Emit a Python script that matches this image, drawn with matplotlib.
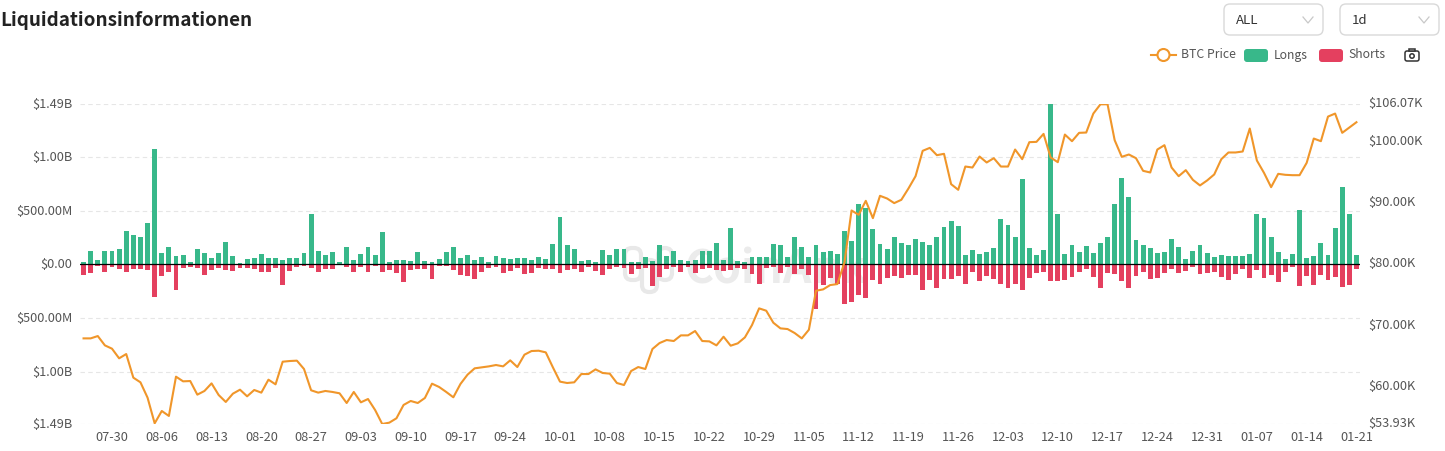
import matplotlib
matplotlib.use("Agg")
import matplotlib.pyplot as plt
from matplotlib.patches import FancyBboxPatch, Circle, Rectangle
from matplotlib.transforms import ScaledTranslation
import numpy as np

plt.rcParams['font.family'] = ['Noto Sans CJK SC', 'DejaVu Sans']

# liquidations in $M, one value per day from 07-26 to 01-21
longs = [25, 121, 43, 127, 124, 140, 307, 276, 251, 382, 1074, 102, 158, 74, 84, 19, 143, 109, 56, 106,
         211, 81, 16, 53, 59, 93, 62, 56, 40, 56, 62, 106, 469, 124, 84, 118, 19, 158, 37, 96,
         158, 84, 301, 22, 37, 37, 28, 115, 31, 25, 47, 118, 158, 56, 90, 40, 71, 25, 81, 56,
         47, 56, 59, 37, 68, 47, 192, 441, 177, 140, 34, 43, 19, 137, 84, 140, 146, 22, 22, 68,
         34, 183, 74, 121, 40, 28, 37, 121, 127, 199, 43, 335, 28, 22, 71, 65, 68, 189, 183, 71,
         251, 158, 68, 180, 118, 124, 93, 307, 214, 559, 525, 332, 186, 143, 258, 196, 177, 233, 205, 180,
         251, 345, 407, 354, 84, 130, 96, 118, 149, 419, 369, 251, 792, 155, 84, 130, 1490, 469, 96, 183,
         112, 171, 102, 196, 251, 562, 807, 627, 223, 183, 152, 106, 112, 233, 158, 47, 121, 177, 109, 65,
         90, 74, 74, 81, 96, 469, 435, 258, 115, 47, 96, 503, 59, 81, 196, 84, 335, 720, 472, 84]
shorts = [99, 78, 12, 71, 25, 40, 74, 40, 40, 56, 307, 112, 74, 242, 34, 22, 34, 99, 53, 34,
          50, 62, 31, 34, 40, 74, 74, 34, 189, 59, 28, 12, 31, 74, 40, 40, 6, 25, 71, 22,
          68, 19, 74, 53, 81, 165, 53, 43, 43, 137, 12, 19, 53, 102, 105, 137, 71, 31, 28, 78,
          59, 31, 90, 81, 31, 40, 40, 78, 53, 47, 74, 22, 59, 102, 47, 25, 37, 90, 47, 34,
          199, 115, 47, 28, 71, 22, 78, 47, 37, 56, 65, 56, 37, 43, 90, 183, 34, 28, 81, 28,
          87, 43, 99, 413, 192, 127, 186, 366, 354, 289, 317, 143, 186, 127, 109, 130, 102, 99, 242, 143,
          223, 133, 133, 109, 180, 74, 155, 112, 133, 186, 220, 186, 242, 130, 84, 74, 152, 152, 149, 118,
          74, 47, 118, 220, 84, 93, 152, 220, 112, 74, 137, 130, 84, 47, 78, 59, 28, 90, 81, 68,
          118, 146, 93, 43, 124, 56, 127, 102, 165, 71, 25, 199, 105, 189, 99, 146, 121, 208, 192, 40]
# BTC price in $K
price = [67.93, 67.93, 68.31, 66.79, 66.25, 64.68, 65.38, 61.53, 60.77, 58.27, 54.09, 56.10, 55.29, 61.69, 60.93,
         60.98, 58.76, 59.36, 60.60, 58.70, 57.57, 58.92, 59.57, 58.49, 59.52, 59.09, 61.20, 60.44, 64.13, 64.24,
         64.30, 62.94, 59.47, 59.09, 59.36, 59.20, 58.98, 57.40, 59.20, 57.51, 58.05, 56.26, 53.98, 54.20, 54.91,
         57.08, 57.73, 57.40, 58.22, 60.55, 60.01, 59.20, 58.33, 60.50, 62.02, 63.05, 63.21, 63.37, 63.59, 63.37,
         64.35, 63.26, 65.27, 65.87, 65.92, 65.65, 63.21, 60.88, 60.66, 60.77, 62.12, 62.12, 62.88, 62.29, 62.18,
         60.66, 60.33, 62.61, 63.26, 62.94, 66.20, 67.17, 67.66, 67.50, 68.42, 68.42, 69.13, 67.50, 67.44, 66.79,
         68.20, 66.74, 67.12, 68.09, 70.10, 72.82, 72.44, 70.48, 69.56, 69.45, 68.80, 67.93, 69.34, 75.69, 75.91,
         76.62, 76.78, 80.30, 88.77, 88.06, 90.34, 87.52, 91.16, 90.72, 89.97, 90.51, 92.35, 94.36, 98.49, 98.97,
         97.78, 98.00, 93.06, 92.14, 95.93, 95.77, 97.56, 96.59, 97.29, 95.93, 95.93, 98.70, 97.13, 99.90, 99.95,
         101.25, 97.40, 96.64, 101.14, 100.06, 101.42, 101.47, 104.56, 106.07, 106.07, 100.22, 97.51, 97.89, 97.29, 95.23,
         94.96, 98.70, 99.41, 95.77, 94.36, 95.34, 93.76, 92.85, 93.66, 94.64, 97.13, 98.22, 98.22, 98.38, 102.12,
         96.91, 94.90, 92.57, 94.74, 94.58, 94.52, 94.52, 96.53, 100.49, 100.06, 104.07, 104.56, 101.42, 102.28, 103.15]

date_labels = ["07-30", "08-06", "08-13", "08-20", "08-27", "09-03", "09-10", "09-17", "09-24", "10-01", "10-08",
               "10-15", "10-22", "10-29", "11-05", "11-12", "11-19", "11-26", "12-03", "12-10", "12-17", "12-24",
               "12-31", "01-07", "01-14", "01-21"]
left_ticks = [-1490, -1000, -500, 0, 500, 1000, 1490]
left_labels = ["$1.49B", "$1.00B", "$500.00M", "$0.00", "$500.00M", "$1.00B", "$1.49B"]
right_ticks = [53.93, 60, 70, 80, 90, 100, 106.07]
right_labels = ["$53.93K", "$60.00K", "$70.00K", "$80.00K", "$90.00K", "$100.00K", "$106.07K"]

GREEN = "#38B88A"
RED = "#E4405F"
ORANGE = "#F0962A"
TEXT = "#555555"
W, H = 1445, 451

fig = plt.figure(figsize=(W / 100, H / 100), dpi=100, facecolor="white")
ax = fig.add_axes([80 / W, 1 - 424.3 / H, 1280 / W, 320 / H])
days = np.arange(len(longs))

ax.bar(days, longs, width=0.68, color=GREEN, zorder=3)
ax.bar(days, -np.array(shorts), width=0.68, color=RED, zorder=3)
ax.axhline(0, color="black", lw=0.9, zorder=4)

ax.set_xlim(-0.5, len(longs) - 0.5)
ax.set_ylim(-1490, 1490)
ax.set_yticks(left_ticks)
ax.set_yticklabels(left_labels, fontsize=9.2, color=TEXT)
ax.set_xticks(days[4::7])
ax.set_xticklabels(date_labels, fontsize=9.2, color=TEXT)
ax.tick_params(axis="both", length=0)
ax.tick_params(axis="y", pad=5.5)
ax.tick_params(axis="x", pad=5)
ax.grid(axis="y", color="#e6e6e6", linestyle=(0, (4, 3)), linewidth=0.8, zorder=0)
ax.set_axisbelow(True)
for s in ax.spines.values():
    s.set_visible(False)

ax2 = ax.twinx()
ax2.plot(days, price, color=ORANGE, lw=1.5, zorder=5, solid_joinstyle="round")
ax2.set_ylim(53.93, 106.07)
ax2.set_yticks(right_ticks)
ax2.set_yticklabels(right_labels, fontsize=9.2, color=TEXT)
ax2.tick_params(axis="y", length=0, pad=6)
for s in ax2.spines.values():
    s.set_visible(False)

# tick labels sit slightly above their ticks in the reference
for lab in ax.get_yticklabels():
    lab.set_transform(lab.get_transform() + ScaledTranslation(0, 1 / 100, fig.dpi_scale_trans))
for lab in ax2.get_yticklabels():
    lab.set_transform(lab.get_transform() + ScaledTranslation(0, 2 / 100, fig.dpi_scale_trans))

# everything outside the plot, in pixel coordinates
ui = fig.add_axes([0, 0, 1, 1], facecolor="none", zorder=-1)
ui.set_xlim(0, W)
ui.set_ylim(H, 0)
ui.axis("off")
ax.patch.set_visible(False)
ax2.patch.set_visible(False)

ui.text(0, 21, "Liquidationsinformationen", fontsize=13.6, fontweight="bold", color="#222222", va="center")

for x0, label in [(1224, "ALL"), (1340, "1d")]:
    ui.add_patch(FancyBboxPatch((x0, 4), 99, 31, boxstyle="round,pad=0,rounding_size=6",
                                fc="white", ec="#d9d9d9", lw=1))
    ui.text(x0 + 12, 20, label, fontsize=9.5, color="#333333", va="center")
    ui.plot([x0 + 79, x0 + 84, x0 + 89], [17, 23, 17], color="#c8c8c8", lw=0.9)

ui.plot([1151, 1176], [55, 55], color=ORANGE, lw=1.5)
ui.add_patch(Circle((1163.5, 55), 6, fc="white", ec=ORANGE, lw=1.5, zorder=3))
ui.text(1181, 55, "BTC Price", fontsize=8.8, color=TEXT, va="center")
ui.add_patch(FancyBboxPatch((1244, 49), 24, 13, boxstyle="round,pad=0,rounding_size=3", fc=GREEN, ec="none"))
ui.text(1274, 55, "Longs", fontsize=8.8, color=TEXT, va="center")
ui.add_patch(FancyBboxPatch((1319, 49), 24, 13, boxstyle="round,pad=0,rounding_size=3", fc=RED, ec="none"))
ui.text(1348, 55, "Shorts", fontsize=8.8, color=TEXT, va="center")

# camera icon
ui.add_patch(FancyBboxPatch((1405, 51), 14, 10, boxstyle="round,pad=0,rounding_size=2", fc="white", ec="#333333", lw=1.1))
ui.add_patch(Rectangle((1409, 49), 6, 2, fc="white", ec="#333333", lw=1.1))
ui.add_patch(Circle((1412, 56), 2.2, fc="white", ec="#333333", lw=1.1))

# watermark, behind the bars
for x0, y0, w, h in [(625, 248, 16, 32), (642, 260, 15, 32), (658, 248, 14, 32)]:
    ui.add_patch(FancyBboxPatch((x0, y0), w, h, boxstyle="round,pad=0,rounding_size=7",
                                fc="none", ec="#e8e8e8", lw=3))
ui.text(685, 270, "CoinAnk", fontsize=32, color="#ebebeb", va="center", fontweight="bold")

fig.savefig("out.png", dpi=100)
